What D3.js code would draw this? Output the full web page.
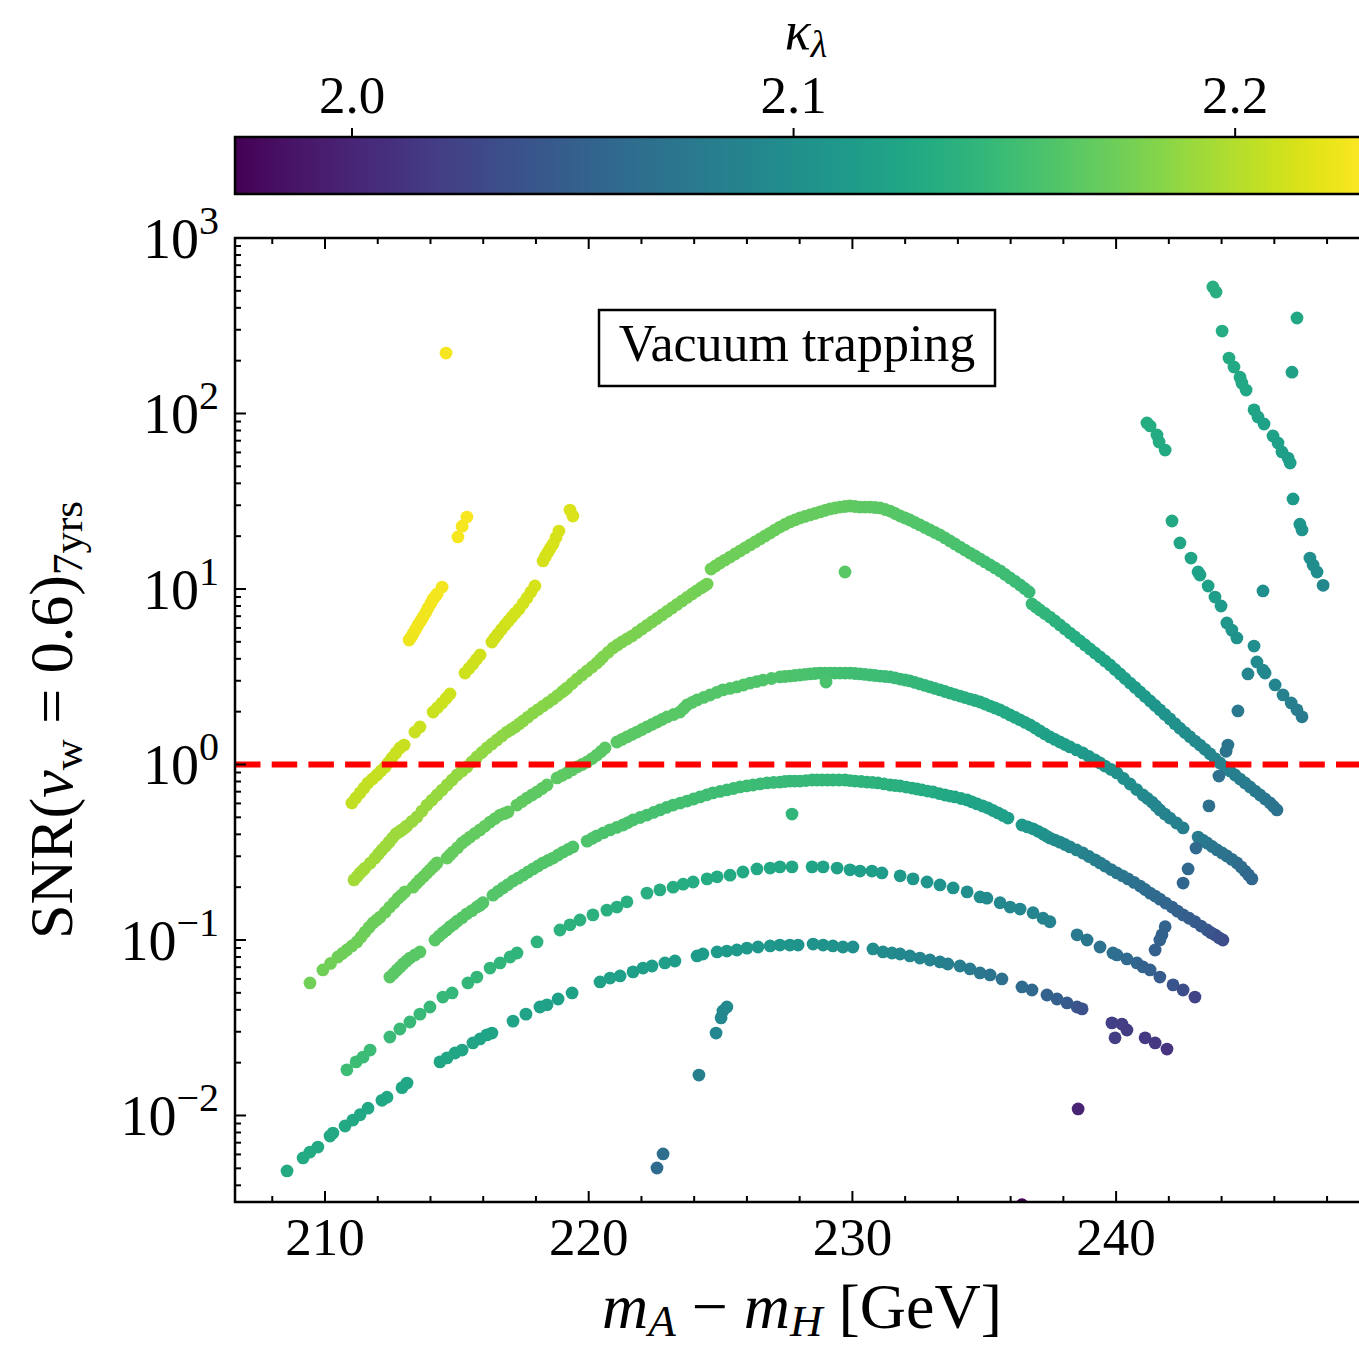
<!DOCTYPE html>
<html><head><meta charset="utf-8">
<script src="https://cdn.jsdelivr.net/npm/d3@7/dist/d3.min.js"></script>
<style>
body{margin:0;background:#fff}
svg{display:block}
text{font-family:"Liberation Serif","Times New Roman",serif;fill:#000}
</style>
</head><body>
<script>
// ---------- axis / tick data ----------
const xTicks = [210, 220, 230, 240];
const yTickExps = [-2, -1, 0, 1, 2, 3];
const kappaTicks = [2.0, 2.1, 2.2];
const kappaLabels = ["2.0", "2.1", "2.2"];
const snrThreshold = 1;
const xDomain = [206.587, 249.325];
const yDomain = [0.003214, 1000];
const kappaDomain = [1.9735, 2.2285];

// ---------- series (m_A - m_H [GeV], SNR, kappa_lambda) ----------
const y1X = [213.19,213.34,213.53,213.72,213.91,214.10,214.25,214.44,215.04,215.20,215.38,214.59,
213.27,213.44,213.63,213.82,214.01,214.18];
const y1S = [5.12,5.55,6.24,6.92,7.80,8.77,9.37,10.26,19.8,22.8,25.7,221,
5.33,5.89,6.57,7.35,8.27,9.07];
const y1K = [2.222,2.222,2.223,2.223,2.223,2.224,2.224,2.224,2.225,2.225,2.226,2.225,
2.222,2.223,2.223,2.223,2.224,2.224];

const y2X = [211.02,211.33,211.63,211.97,212.28,212.54,212.84,213.00,213.41,213.60,214.10,214.44,214.74,215.31,215.61,215.88,216.33,216.56,216.83,217.09,217.36,217.66,217.96,218.27,218.46,218.65,218.87,219.29,219.40,
211.17,211.48,211.80,212.12,212.41,212.69,214.27,214.59,215.46,215.74,216.44,216.69,216.96,217.22,217.51,217.81,218.36,218.55,218.76];
const y2S = [0.604,0.689,0.785,0.871,0.968,1.089,1.242,1.291,1.531,1.637,1.991,2.239,2.523,3.319,3.741,4.207,4.989,5.546,6.237,6.918,7.69,8.89,10.4,14.45,16.26,18.03,21.38,28.18,26.06,
0.645,0.735,0.827,0.918,1.027,1.163,2.111,2.377,3.524,3.967,5.260,5.881,6.569,7.294,8.268,9.615,15.34,17.12,19.63];
const y2K = [2.205,2.205,2.205,2.206,2.206,2.206,2.207,2.207,2.207,2.208,2.208,2.208,2.209,2.209,2.209,2.210,2.210,2.210,2.211,2.211,2.211,2.211,2.212,2.212,2.212,2.213,2.213,2.214,2.214,
2.205,2.205,2.206,2.206,2.206,2.207,2.208,2.209,2.209,2.210,2.210,2.210,2.211,2.211,2.211,2.212,2.212,2.213,2.213];

const a1X = [211.10,211.33,211.52,211.90,212.16,212.43,212.69,212.92,213.11,213.49,
213.87,214.25,214.63,215.01,215.38,215.76,216.14,216.52,216.90,217.21,
217.51,217.89,218.27,218.65,218.99,219.18,219.56,219.94,220.31,220.54,
220.92,221.26,221.64,222.02,222.40,222.78,223.16,223.54,223.92,224.26,
224.49,224.64,224.98,225.36,225.74,226.12,226.50,226.88,227.25,227.63,
228.01,228.39,228.77,229.15,229.53,229.91,230.29,230.67,231.05,231.43,
231.81,232.18,232.56,232.94,233.32,233.70,234.08,234.46,234.84,235.22,
235.60,235.98,236.36,236.70,236.81,237.11,237.49,237.87,238.25,238.63,
239.01,239.39,239.77,240.15,240.53,240.91,241.29,241.66,242.04,242.42,
242.80,243.18,243.56,243.94,244.32,244.70,245.08,245.46,245.84,246.10];
const a1S = [0.220,0.241,0.257,0.293,0.326,0.361,0.402,0.424,0.447,0.502,
0.587,0.670,0.764,0.871,0.968,1.104,1.242,1.380,1.531,1.637,
1.770,1.963,2.153,2.360,2.588,2.729,3.069,3.412,3.784,4.102,
4.613,4.989,5.395,5.916,6.486,7.112,7.798,8.551,9.376,10.14,
10.67,13.00,14.06,15.21,16.48,17.82,19.27,20.84,22.54,24.10,
25.40,26.42,27.48,28.58,29.31,29.72,29.31,29.31,28.97,27.80,
26.06,24.72,23.17,21.68,20.32,18.79,17.34,16.03,14.83,13.71,
12.68,11.56,10.54,9.62,8.22,7.59,6.92,6.24,5.61,5.06,
4.55,4.10,3.69,3.28,2.91,2.59,2.30,2.05,1.82,1.61,
1.44,1.29,1.15,1.02,0.918,0.826,0.745,0.670,0.604,0.551];
const a1K = [2.193,2.193,2.192,2.192,2.191,2.191,2.190,2.190,2.190,2.189,
2.189,2.188,2.188,2.187,2.187,2.186,2.186,2.185,2.185,2.184,
2.184,2.183,2.183,2.182,2.182,2.181,2.181,2.180,2.180,2.179,
2.179,2.178,2.178,2.177,2.177,2.176,2.176,2.175,2.175,2.174,
2.174,2.173,2.173,2.172,2.172,2.171,2.171,2.170,2.170,2.169,
2.169,2.168,2.168,2.167,2.167,2.166,2.165,2.164,2.163,2.162,
2.161,2.160,2.159,2.158,2.157,2.156,2.155,2.154,2.152,2.151,
2.150,2.148,2.147,2.146,2.145,2.142,2.139,2.136,2.133,2.130,
2.127,2.124,2.121,2.118,2.115,2.112,2.109,2.106,2.103,2.100,
2.097,2.094,2.091,2.088,2.085,2.082,2.079,2.076,2.073,2.070];
// further readings along the dense top arch
const a1bX = [211.22,211.43,211.71,212.03,212.30,212.56,212.81,213.02,213.30,213.68,
214.06,214.44,214.82,215.20,215.57,215.95,216.33,216.71,217.06,217.36,
217.70,218.08,218.46,218.82,219.09,219.37,219.75,220.13,220.43,220.73,
221.09,221.45,221.83,222.21,222.59,222.97,223.35,223.73,224.09,224.38,
224.81,225.17,225.55,225.93,226.31,226.69,227.06,227.44,227.82,228.20,
228.58,228.96,229.34,229.72,230.10,230.48,230.86,231.24,231.62,232.00,
232.37,232.75,233.13,233.51,233.89,234.27,234.65,235.03,235.41,235.79,
236.17,236.53,
236.96,237.30,237.68,238.06,238.44,238.82,239.20,239.58,239.96,240.34,
240.72,241.10,241.48,241.85,242.23,242.61,242.99,243.37,243.75,244.13,
244.51,244.89,245.27,245.65,245.97];
const a1bS = [0.230,0.249,0.274,0.309,0.343,0.381,0.413,0.435,0.474,0.543,
0.627,0.715,0.816,0.918,1.034,1.171,1.309,1.454,1.583,1.702,
1.864,2.056,2.254,2.471,2.658,2.894,3.236,3.593,3.940,4.350,
4.797,5.188,5.650,6.195,6.792,7.447,8.166,8.954,9.750,10.40,
13.52,14.62,15.83,17.14,18.53,20.04,21.67,23.31,24.74,25.90,
26.94,28.02,28.94,29.51,29.51,29.31,29.14,28.38,26.92,25.38,
23.93,22.41,20.99,19.54,18.05,16.67,15.42,14.26,13.18,12.11,
11.04,10.07,
7.90,7.25,6.57,5.92,5.33,4.80,4.32,3.89,3.48,3.09,
2.75,2.44,2.17,1.93,1.71,1.52,1.36,1.22,1.08,0.968,
0.871,0.785,0.706,0.636,0.577];
const a1bK = [2.193,2.193,2.192,2.191,2.191,2.190,2.190,2.190,2.189,2.189,
2.188,2.188,2.187,2.187,2.186,2.186,2.185,2.185,2.184,2.184,
2.183,2.183,2.182,2.182,2.181,2.181,2.180,2.180,2.179,2.179,
2.178,2.178,2.177,2.177,2.176,2.176,2.175,2.175,2.174,2.174,
2.173,2.172,2.172,2.171,2.171,2.170,2.170,2.169,2.169,2.168,
2.168,2.167,2.167,2.166,2.165,2.164,2.163,2.162,2.161,2.160,
2.159,2.158,2.157,2.156,2.155,2.154,2.153,2.151,2.150,2.149,
2.147,2.146,
2.143,2.140,2.137,2.134,2.131,2.128,2.125,2.122,2.119,2.116,
2.113,2.110,2.107,2.104,2.101,2.098,2.095,2.092,2.089,2.086,
2.083,2.080,2.077,2.074,2.071];

const a2X = [209.43,209.92,210.49,210.83,211.21,211.52,211.82,212.09,212.46,212.77,
213.03,213.34,213.60,213.87,214.10,214.25,214.63,214.85,215.20,215.50,
215.88,216.26,216.64,216.94,217.28,217.66,218.04,218.42,218.80,219.18,
219.56,219.94,220.31,220.62,221.07,221.45,221.83,222.21,222.59,222.97,
223.46,223.73,224.11,224.60,225.09,225.62,226.12,226.61,227.25,227.63,
228.01,228.39,228.77,229.15,229.53,229.91,230.29,230.67,231.05,231.43,
231.81,232.18,232.56,232.94,233.32,233.70,234.08,234.46,234.84,235.22,
235.60,235.98,236.36,236.74,237.11,237.49,237.87,238.25,238.74,239.20,
239.58,240.03,240.53,241.02,241.36,241.66,242.04,242.54,243.11,243.45,
243.83,244.20,244.58,244.89,245.15];
const a2S = [0.0569,0.0675,0.0800,0.0877,0.0975,0.111,0.125,0.135,0.154,0.173,
0.188,0.200,0.220,0.241,0.261,0.275,0.293,0.317,0.357,0.386,
0.424,0.470,0.515,0.536,0.587,0.644,0.697,0.764,0.838,0.895,
0.968,1.033,1.132,1.242,1.343,1.436,1.531,1.637,1.746,1.866,
1.991,2.183,2.333,2.489,2.661,2.767,2.911,3.027,3.155,3.192,
3.236,3.281,3.319,3.319,3.319,3.319,3.281,3.236,3.192,3.155,
3.069,2.992,2.877,2.767,2.661,2.553,2.455,2.360,2.270,2.153,
2.046,1.914,1.795,1.679,1.552,1.436,1.343,1.259,1.164,1.062,
0.980,0.895,0.774,0.670,0.611,0.551,0.495,0.435,0.386,0.357,
0.326,0.301,0.275,0.247,0.223];
const a2K = [2.173,2.173,2.173,2.172,2.172,2.172,2.171,2.171,2.171,2.170,
2.170,2.170,2.169,2.169,2.169,2.168,2.168,2.168,2.167,2.167,
2.167,2.166,2.166,2.166,2.166,2.165,2.165,2.165,2.165,2.164,
2.164,2.164,2.164,2.163,2.163,2.163,2.163,2.162,2.162,2.162,
2.161,2.161,2.160,2.160,2.159,2.159,2.158,2.158,2.157,2.156,
2.155,2.154,2.153,2.152,2.151,2.150,2.149,2.148,2.147,2.146,
2.145,2.143,2.141,2.140,2.138,2.136,2.135,2.133,2.131,2.130,
2.128,2.126,2.124,2.122,2.120,2.118,2.116,2.113,2.110,2.107,
2.104,2.101,2.098,2.095,2.092,2.089,2.086,2.083,2.079,2.076,
2.072,2.069,2.065,2.061,2.057];
const a2bX = [221.26,221.64,222.02,222.40,222.78,223.22,223.60,223.92,224.36,224.85,
225.36,225.87,226.37,226.93,227.44,227.82,228.20,228.58,228.96,229.34,
229.72,230.10,230.48,230.86,231.24,231.62,232.00,232.37,232.75,233.13,
233.51,233.89,234.27,234.65,235.03,235.41,235.79,236.17,236.55,236.93,
237.30,237.68,238.06,238.50,238.97,239.39,239.81,240.28,240.78,241.19,
241.51,241.85,242.29,
243.28,243.64,244.02,244.39,244.74,245.02,
210.21,210.66,211.02,211.37,211.67,211.96,212.28,212.62,212.90,
213.47,213.74,213.99,214.18,
214.74,215.03,215.35,215.69,216.07,216.45,216.79,
217.47,217.85,218.23,
218.99,219.37,219.75,220.13,220.47];
const a2bS = [1.389,1.483,1.583,1.691,1.805,1.927,2.085,2.257,2.410,2.574,
2.713,2.838,2.968,3.090,3.173,3.214,3.258,3.300,3.319,3.319,
3.319,3.300,3.258,3.214,3.173,3.112,3.030,2.934,2.821,2.713,
2.606,2.503,2.407,2.315,2.211,2.099,1.979,1.854,1.736,1.614,
1.493,1.389,1.300,1.211,1.112,1.020,0.937,0.832,0.720,0.640,
0.580,0.522,0.464,
0.371,0.341,0.313,0.288,0.261,0.235,
0.0735,0.0838,0.0925,0.104,0.118,0.130,0.144,0.163,0.180,
0.210,0.230,0.251,0.268,
0.305,0.336,0.371,0.405,0.446,0.492,0.525,
0.615,0.670,0.730,
0.866,0.931,1.000,1.081,1.186];
const a2bK = [2.163,2.163,2.163,2.162,2.162,2.162,2.161,2.161,2.160,2.160,
2.159,2.159,2.158,2.158,2.157,2.156,2.155,2.154,2.153,2.152,
2.151,2.150,2.149,2.148,2.147,2.146,2.144,2.142,2.141,2.139,
2.137,2.136,2.134,2.132,2.131,2.129,2.127,2.125,2.123,2.121,
2.119,2.117,2.115,2.112,2.109,2.106,2.103,2.100,2.097,2.094,
2.091,2.088,2.085,
2.078,2.074,2.071,2.067,2.063,2.059,
2.173,2.172,2.172,2.172,2.171,2.171,2.171,2.170,2.170,
2.169,2.169,2.169,2.168,
2.168,2.168,2.167,2.167,2.167,2.166,2.166,
2.166,2.165,2.165,
2.165,2.164,2.164,2.164,2.163];

const a3X = [212.46,212.73,212.96,213.22,213.60,214.17,214.47,214.74,215.01,215.38,
215.76,215.99,216.37,216.75,217.13,217.51,217.89,218.27,218.65,219.03,
219.40,219.94,220.31,220.81,221.30,221.68,222.21,222.70,223.20,223.73,
224.22,224.71,225.24,225.74,226.23,226.76,227.25,227.63,228.01,228.47,
228.85,229.26,229.72,230.10,230.55,230.97,231.43,231.81,232.26,232.64,
233.06,233.51,233.89,234.35,234.73,235.14,235.52,235.90,236.43,236.85,
237.23,237.49,237.87,238.25,238.74,239.20,239.58,240.03,240.45,240.91,
241.29,241.66,242.12,242.54,242.99,243.45,243.75,244.05];
const a3S = [0.0615,0.0675,0.0730,0.0789,0.0855,0.100,0.110,0.119,0.128,0.141,
0.154,0.163,0.180,0.198,0.217,0.234,0.254,0.275,0.293,0.317,
0.339,0.366,0.392,0.424,0.452,0.483,0.515,0.551,0.587,0.619,
0.653,0.689,0.716,0.745,0.764,0.785,0.794,0.805,0.805,0.816,
0.816,0.816,0.816,0.805,0.794,0.785,0.764,0.754,0.734,0.716,
0.697,0.670,0.653,0.628,0.596,0.565,0.530,0.495,0.452,0.430,
0.402,0.381,0.361,0.339,0.313,0.286,0.264,0.241,0.223,0.203,
0.185,0.171,0.154,0.139,0.127,0.114,0.107,0.100];
const a3K = [2.163,2.163,2.163,2.162,2.162,2.162,2.162,2.161,2.161,2.161,
2.161,2.160,2.160,2.160,2.160,2.159,2.159,2.159,2.159,2.158,
2.158,2.157,2.156,2.156,2.155,2.154,2.153,2.152,2.152,2.151,
2.150,2.149,2.148,2.148,2.147,2.146,2.145,2.144,2.144,2.143,
2.142,2.141,2.140,2.139,2.137,2.136,2.134,2.132,2.130,2.129,
2.127,2.125,2.123,2.121,2.120,2.118,2.116,2.114,2.111,2.107,
2.103,2.099,2.095,2.091,2.087,2.083,2.079,2.075,2.071,2.067,
2.063,2.059,2.055,2.051,2.047,2.043,2.038,2.032];
const a3bX = [220.13,220.56,221.06,221.49,221.95,222.46,222.95,223.47,223.98,224.47,
224.98,225.49,225.99,226.50,227.01,227.44,227.82,228.24,228.66,229.06,
229.49,229.91,230.33,230.76,231.20,231.62,232.04,232.45,232.85,233.29,
233.70,234.12,234.54,234.94,235.33,235.71,
236.64,237.04,237.36,237.68,238.06,238.50,238.97,239.39,239.81,240.24,
240.68,241.10,241.48,241.89,242.33,242.77,243.22,243.60,243.90,
212.60,212.85,213.09,213.41,
214.32,214.61,214.88,215.20,215.57,215.88,
216.56,216.94,217.32,217.70,218.08,218.46,218.84,219.22];
const a3bS = [0.379,0.408,0.438,0.467,0.499,0.533,0.569,0.603,0.636,0.671,
0.702,0.730,0.755,0.775,0.790,0.800,0.805,0.810,0.816,0.816,
0.816,0.810,0.800,0.790,0.775,0.759,0.744,0.725,0.706,0.683,
0.661,0.640,0.612,0.580,0.547,0.512,
0.441,0.416,0.391,0.371,0.350,0.326,0.299,0.275,0.252,0.232,
0.213,0.194,0.178,0.162,0.146,0.133,0.120,0.110,0.103,
0.0644,0.0702,0.0759,0.0821,
0.105,0.114,0.123,0.134,0.147,0.158,
0.189,0.207,0.225,0.244,0.264,0.284,0.305,0.328];
const a3bK = [2.157,2.156,2.156,2.155,2.154,2.153,2.152,2.152,2.151,2.150,
2.149,2.148,2.148,2.147,2.146,2.145,2.144,2.144,2.143,2.142,
2.141,2.140,2.139,2.138,2.137,2.135,2.133,2.131,2.130,2.128,
2.126,2.124,2.122,2.121,2.119,2.117,
2.109,2.105,2.101,2.097,2.093,2.089,2.085,2.081,2.077,2.073,
2.069,2.065,2.061,2.057,2.053,2.049,2.045,2.041,2.035,
2.163,2.163,2.162,2.162,
2.162,2.161,2.161,2.161,2.161,2.160,
2.160,2.160,2.160,2.159,2.159,2.159,2.159,2.158];

const a4X = [210.83,211.18,211.44,211.71,212.46,212.84,213.22,213.60,213.98,214.47,
214.82,215.42,215.76,216.26,216.64,217.02,217.28,218.04,218.91,219.29,
219.67,220.16,220.69,221.07,221.45,222.21,222.70,223.20,223.58,223.96,
224.49,224.87,225.36,225.85,226.38,226.88,227.25,227.71,228.47,228.89,
229.42,229.91,230.29,230.74,231.12,231.81,232.30,232.83,233.32,233.82,
234.35,234.84,235.10,235.60,235.98,236.36,236.85,237.23,237.49,238.52,
238.90,239.39,239.88,240.03,240.41,240.79,241.02,241.29,241.66,242.16,
242.54,242.99];
const a4S = [0.0182,0.0202,0.0215,0.0236,0.0280,0.0311,0.0341,0.0378,0.0415,0.0473,
0.0499,0.0569,0.0615,0.0692,0.0740,0.0800,0.0843,0.0975,0.114,0.122,
0.130,0.139,0.148,0.154,0.165,0.185,0.193,0.200,0.208,0.214,
0.223,0.229,0.234,0.244,0.254,0.257,0.261,0.261,0.261,0.261,
0.257,0.251,0.247,0.247,0.241,0.232,0.223,0.214,0.206,0.198,
0.188,0.176,0.173,0.163,0.154,0.150,0.143,0.133,0.127,0.107,
0.100,0.0912,0.0843,0.0822,0.0780,0.0740,0.0702,0.0675,0.0615,0.0555,
0.0519,0.0473];
const a4K = [2.148,2.148,2.147,2.147,2.146,2.146,2.145,2.145,2.144,2.144,
2.143,2.142,2.142,2.141,2.140,2.140,2.139,2.138,2.137,2.137,
2.136,2.136,2.135,2.134,2.134,2.133,2.132,2.132,2.131,2.130,
2.130,2.129,2.128,2.127,2.126,2.126,2.125,2.124,2.122,2.121,
2.119,2.117,2.115,2.114,2.112,2.110,2.108,2.106,2.104,2.102,
2.100,2.098,2.096,2.094,2.092,2.091,2.089,2.088,2.086,2.078,
2.074,2.069,2.066,2.065,2.061,2.057,2.054,2.052,2.047,2.040,
2.033,2.025];

const a5X = [208.56,209.17,209.43,209.73,210.19,210.30,210.76,211.06,211.33,211.63,
212.16,212.35,212.92,213.11,214.36,214.63,214.93,215.20,215.61,215.88,
216.14,216.33,217.13,217.62,218.15,218.42,218.84,219.37,220.43,220.81,
221.19,221.68,222.06,222.40,222.89,223.27,224.11,224.33,224.87,225.24,
225.62,226.00,226.42,226.88,227.25,227.63,227.94,228.51,228.89,229.26,
229.64,230.02,230.78,231.16,231.50,231.81,232.18,232.56,232.94,233.32,
233.62,234.08,234.46,234.84,235.22,235.67,236.43,236.81,237.38,237.76,
238.14,238.52,238.71,239.84,240.22,240.41,239.96,241.10,241.48,241.93];
const a5S = [0.00483,0.00573,0.00619,0.00661,0.00764,0.00794,0.00871,0.00942,0.0101,0.0110,
0.0122,0.0127,0.0144,0.0153,0.0202,0.0213,0.0227,0.0236,0.0259,0.0273,
0.0288,0.0295,0.0345,0.0378,0.0415,0.0427,0.0461,0.0499,0.0577,0.0607,
0.0624,0.0658,0.0692,0.0711,0.0740,0.0759,0.0811,0.0832,0.0855,0.0865,
0.0877,0.0899,0.0912,0.0925,0.0936,0.0936,0.0936,0.0948,0.0936,0.0925,
0.0912,0.0912,0.0889,0.0855,0.0843,0.0832,0.0811,0.0789,0.0769,0.0750,
0.0730,0.0711,0.0684,0.0649,0.0632,0.0600,0.0540,0.0519,0.0486,0.0461,
0.0438,0.0415,0.0405,0.0337,0.0332,0.0307,0.0277,0.0277,0.0259,0.0239];
const a5K = [2.128,2.128,2.128,2.127,2.127,2.127,2.127,2.126,2.126,2.126,
2.125,2.125,2.125,2.124,2.124,2.124,2.123,2.123,2.123,2.122,
2.122,2.122,2.121,2.121,2.120,2.120,2.119,2.119,2.118,2.117,
2.117,2.116,2.116,2.115,2.115,2.114,2.113,2.113,2.112,2.111,
2.111,2.110,2.109,2.108,2.107,2.106,2.105,2.104,2.103,2.102,
2.101,2.100,2.098,2.096,2.095,2.093,2.091,2.089,2.087,2.085,
2.083,2.081,2.078,2.075,2.072,2.068,2.062,2.059,2.054,2.051,
2.047,2.042,2.038,2.022,2.020,2.019,2.021,2.016,2.014,2.012];

const rTopX = [243.67,243.79,244.02,244.28,244.47,244.70,244.77,244.93,245.23,245.38,245.61,245.95,246.14,246.29,246.52,246.60,246.71,246.97,247.05,247.35,247.47,247.62,247.85];
const rTopS = [526,492,295,207,184,161,149,136,105,95.5,87.1,74.5,67.9,60.4,55.7,52.2,32.6,23.4,21.7,15.0,13.7,12.5,10.5];
const rTopK = [2.133,2.133,2.130,2.128,2.127,2.126,2.126,2.125,2.122,2.121,2.120,2.118,2.117,2.116,2.115,2.115,2.110,2.106,2.105,2.100,2.099,2.098,2.093];

const rMidX = [241.17,241.29,241.55,241.63,241.86,242.12,242.42,242.84,243.11,243.18,243.49,243.75,243.98,244.20,244.39,244.58,245.23,245.34,245.57,245.65,246.03,246.33,246.64,246.86,247.05];
const rMidS = [88.3,84.9,75.5,68.8,61.9,24.4,18.3,15.0,12.5,12.0,10.4,9.00,8.00,6.40,5.83,5.26,4.73,3.84,3.45,3.32,2.84,2.49,2.24,2.05,1.87];
const rMidK = [2.130,2.130,2.129,2.129,2.128,2.126,2.124,2.122,2.120,2.119,2.117,2.114,2.112,2.108,2.106,2.103,2.100,2.096,2.094,2.093,2.090,2.087,2.084,2.081,2.078];

const isoX = [229.72,229.00,227.71,225.24,225.09,225.02,224.83,224.18,222.82,222.59,238.56,236.43,246.86,246.67,245.57,
245.00,244.62,244.24,244.17,243.90,243.52,243.03,242.73,242.54,241.86,241.74,241.66,241.48];
const isoS = [12.5,2.95,0.522,0.0415,0.0394,0.0360,0.0295,0.0170,0.00604,0.00502,0.0109,0.0031,350,172,9.75,
3.28,2.02,1.29,1.19,0.859,0.581,0.334,0.254,0.211,0.119,0.107,0.100,0.0877];
const isoK = [2.162,2.155,2.140,2.095,2.094,2.093,2.091,2.083,2.066,2.062,1.998,1.976,2.125,2.118,2.100,
2.090,2.076,2.072,2.071,2.068,2.066,2.061,2.059,2.057,2.055,2.054,2.053,2.050];

// ---------- build ----------
const series = [
  [a5X,a5S,a5K],[a4X,a4S,a4K],[a3X,a3S,a3K],[a3bX,a3bS,a3bK],[a2X,a2S,a2K],[a2bX,a2bS,a2bK],
  [a1X,a1S,a1K],[a1bX,a1bS,a1bK],[y2X,y2S,y2K],[y1X,y1S,y1K],[rMidX,rMidS,rMidK],[rTopX,rTopS,rTopK],[isoX,isoS,isoK]
];
const points = [];
series.forEach(([xs,ss,ks]) => xs.forEach((v,i)=>points.push({x:v,s:ss[i],k:ks[i]})));

const W = 1359, H = 1347;
const P = {l:235, t:238, r:1362, b:1202};
const CB = {l:235, r:1361, t:137, b:194};

const x = d3.scaleLinear().domain(xDomain).range([P.l, P.r]);
const y = d3.scaleLog().domain(yDomain).range([P.b, P.t]);
const kx = d3.scaleLinear().domain(kappaDomain).range([CB.l, CB.r]);
const color = d3.scaleSequential(d3.interpolateViridis).domain(kappaDomain);

const svg = d3.select("body").append("svg").attr("width",W).attr("height",H)
  .attr("viewBox",`0 0 ${W} ${H}`);
const defs = svg.append("defs");
defs.append("clipPath").attr("id","plotclip").append("rect")
  .attr("x",P.l).attr("y",P.t).attr("width",P.r-P.l).attr("height",P.b-P.t);

// colorbar gradient
const grad = defs.append("linearGradient").attr("id","vir").attr("x1","0%").attr("x2","100%");
d3.range(0,1.0001,0.02).forEach(t=>{
  grad.append("stop").attr("offset",(t*100)+"%")
    .attr("stop-color",color(kappaDomain[0]+t*(kappaDomain[1]-kappaDomain[0])));
});
svg.append("rect").attr("x",CB.l).attr("y",CB.t).attr("width",CB.r-CB.l+4).attr("height",CB.b-CB.t)
  .attr("fill","url(#vir)").attr("stroke","#000").attr("stroke-width",2.5);
kappaTicks.forEach((v,i)=>{
  svg.append("line").attr("x1",kx(v)).attr("x2",kx(v)).attr("y1",CB.t).attr("y2",CB.t-9)
    .attr("stroke","#000").attr("stroke-width",2);
  svg.append("text").attr("x",kx(v)).attr("y",113).attr("text-anchor","middle")
    .attr("font-size",53).text(kappaLabels[i]);
});
const kl = svg.append("text").attr("x",806).attr("y",49).attr("text-anchor","middle").attr("font-size",54);
kl.append("tspan").attr("font-style","italic").text("κ");
kl.append("tspan").attr("font-style","italic").attr("font-size",38).attr("dy",8).text("λ");

// scatter
svg.append("g").attr("clip-path","url(#plotclip)")
  .selectAll("circle").data(points).join("circle")
  .attr("cx",d=>x(d.x)).attr("cy",d=>y(d.s)).attr("r",6.4)
  .attr("fill",d=>color(d.k));

// threshold line
svg.append("line").attr("x1",P.l).attr("x2",W).attr("y1",y(snrThreshold)).attr("y2",y(snrThreshold))
  .attr("stroke","#ff0000").attr("stroke-width",6).attr("stroke-dasharray","25.5,11.2");

// ticks
const tk = svg.append("g").attr("stroke","#000").attr("stroke-width",2);
const xMinor = d3.range(208, 250, 2).filter(v=>xTicks.indexOf(v)<0);
xTicks.forEach(v=>{
  tk.append("line").attr("x1",x(v)).attr("x2",x(v)).attr("y1",P.b).attr("y2",P.b-11);
  tk.append("line").attr("x1",x(v)).attr("x2",x(v)).attr("y1",P.t).attr("y2",P.t+11);
});
xMinor.forEach(v=>{
  if (x(v)<P.l||x(v)>W) return;
  tk.append("line").attr("x1",x(v)).attr("x2",x(v)).attr("y1",P.b).attr("y2",P.b-6);
  tk.append("line").attr("x1",x(v)).attr("x2",x(v)).attr("y1",P.t).attr("y2",P.t+6);
});
yTickExps.forEach(e=>{
  const v = Math.pow(10,e);
  tk.append("line").attr("x1",P.l).attr("x2",P.l+11).attr("y1",y(v)).attr("y2",y(v));
});
d3.range(-3,3).forEach(e=>{
  d3.range(2,10).forEach(m=>{
    const v = m*Math.pow(10,e);
    if (v<yDomain[0]||v>yDomain[1]) return;
    tk.append("line").attr("x1",P.l).attr("x2",P.l+6).attr("y1",y(v)).attr("y2",y(v));
  });
});
svg.append("path").attr("d",`M${W+5},${P.t}H${P.l}V${P.b}H${W+5}`)
  .attr("fill","none").attr("stroke","#000").attr("stroke-width",2.5);

// tick labels
xTicks.forEach(v=>{
  svg.append("text").attr("x",x(v)).attr("y",1255).attr("text-anchor","middle")
    .attr("font-size",53).text(v);
});
yTickExps.forEach(e=>{
  const t = svg.append("text").attr("x",219).attr("y",y(Math.pow(10,e))+20)
    .attr("text-anchor","end").attr("font-size",56);
  t.append("tspan").text("10");
  t.append("tspan").attr("font-size",40).attr("dy",-24).text(e<0?"\u2212"+(-e):String(e));
});

// axis labels
const yl = svg.append("text").attr("transform","translate(72,720) rotate(-90)")
  .attr("text-anchor","middle").attr("font-size",62);
yl.append("tspan").text("SNR(");
yl.append("tspan").attr("font-style","italic").text("v");
yl.append("tspan").attr("font-size",43).attr("dy",10).text("w");
yl.append("tspan").attr("dy",-10).text(" = 0.6)");
yl.append("tspan").attr("font-size",43).attr("dy",10).text("7yrs");

const xl = svg.append("text").attr("x",802).attr("y",1328).attr("text-anchor","middle").attr("font-size",64);
xl.append("tspan").attr("font-style","italic").text("m");
xl.append("tspan").attr("font-style","italic").attr("font-size",45).attr("dy",8).text("A");
xl.append("tspan").attr("dy",-8).text(" \u2212 ");
xl.append("tspan").attr("font-style","italic").text("m");
xl.append("tspan").attr("font-style","italic").attr("font-size",45).attr("dy",8).text("H");
xl.append("tspan").attr("dy",-8).text("  [GeV]");

// annotation box
svg.append("rect").attr("x",599).attr("y",310).attr("width",396).attr("height",76)
  .attr("fill","#fff").attr("stroke","#000").attr("stroke-width",2.5);
svg.append("text").attr("x",797).attr("y",361).attr("text-anchor","middle")
  .attr("font-size",52).text("Vacuum trapping");
</script>
</body></html>
